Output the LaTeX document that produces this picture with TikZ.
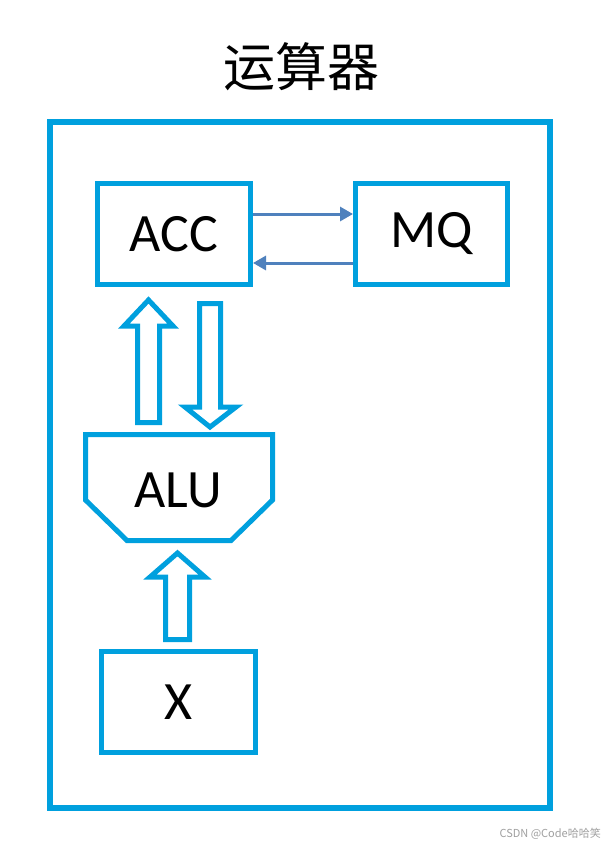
\documentclass[tikz,border=0pt]{standalone}
\usepackage{fontspec}
\setmainfont{Carlito}
\newfontfamily\cjk{Noto Sans CJK SC}
\usetikzlibrary{arrows.meta}
\definecolor{frameblue}{RGB}{0,160,222}
\definecolor{linkblue}{RGB}{79,129,189}
\definecolor{markgray}{RGB}{160,160,160}
\begin{document}
\begin{tikzpicture}[x=1pt,y=-1pt,
  box/.style={draw=frameblue,line width=5pt,fill=white,inner sep=0pt,
    minimum width=153pt,minimum height=101pt,font=\fontsize{54}{54}\selectfont},
  blockarrow/.style={draw=frameblue,line width=5pt,fill=white,line join=miter},
  link/.style={draw=linkblue,line width=3pt,-{Triangle[length=13pt,width=14pt]}},
  label/.style={inner sep=0pt,font=\fontsize{54}{54}\selectfont}]
\useasboundingbox (0,0) rectangle (606,844);
\fill[white] (0,0) rectangle (606,844);
\node[inner sep=0pt,font=\cjk\fontsize{52}{52}\selectfont] (title) at (301,67) {运算器};
\draw[frameblue,line width=6pt] (50,122) rectangle (550,808);
\node[box] (acc) at (174,234) {ACC};
\node[box,minimum width=152pt] (mq) at (431.5,234) {MQ};
\node[box,minimum width=154pt] (x) at (178.5,702) {X};
% ALU
\draw[blockarrow] (85.5,434.5) -- (272.5,434.5) -- (272.5,500) -- (231,540.5) -- (127,540.5) -- (85.5,500) -- cycle;
\node[label] (alu) at (178,490) {ALU};
% block arrows
\draw[blockarrow] (137.5,422.5) -- (137.5,326) -- (124,326) -- (148.5,300) -- (173,326) -- (159.5,326) -- (159.5,422.5) -- cycle;
\draw[blockarrow] (199.5,303.5) -- (220.5,303.5) -- (220.5,407) -- (236,407) -- (210,427) -- (185,407) -- (199.5,407) -- cycle;
\draw[blockarrow] (165.5,639.5) -- (165.5,577) -- (150,577) -- (177.5,553) -- (205,577) -- (189.5,577) -- (189.5,639.5) -- cycle;
% thin arrows
\draw[link] ([yshift=20pt]acc.east) -- ([yshift=20pt]mq.west);
\draw[link] ([yshift=-29pt]mq.west) -- ([yshift=-29pt]acc.east);
\node[inner sep=0pt,anchor=east,text=markgray,font=\cjk\fontsize{11}{11}\selectfont] (mark) at (601,834) {CSDN @Code哈哈笑};
\end{tikzpicture}
\end{document}
